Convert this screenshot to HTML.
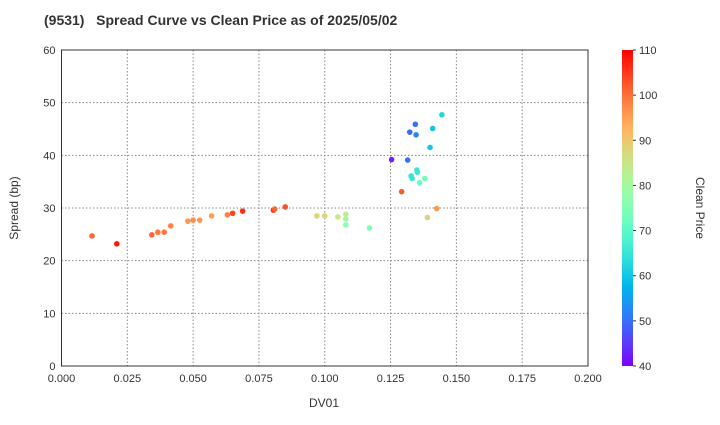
<!DOCTYPE html>
<html><head><meta charset="utf-8"><style>
body{margin:0;background:#fff;}
svg{font-family:"Liberation Sans",sans-serif;}
</style></head><body>
<svg id="c" width="720" height="420" xmlns="http://www.w3.org/2000/svg"></svg>
<script>
const dv01 = [0.0116,0.021,0.0343,0.0366,0.039,0.0415,0.048,0.050,0.0525,0.057,0.063,0.065,0.0688,0.0805,0.081,0.085,0.097,0.100,0.105,0.108,0.108,0.108,0.117,
0.1445,0.1344,0.141,0.1323,0.1347,0.140,0.1254,0.1315,0.135,0.1352,0.1328,0.138,0.1332,0.136,0.1292,0.1425,0.139];
const spread = [24.7,23.2,24.9,25.4,25.4,26.6,27.5,27.7,27.7,28.5,28.7,29.0,29.4,29.6,29.8,30.2,28.5,28.5,28.3,28.8,27.9,26.8,26.2,
47.7,45.9,45.1,44.4,43.9,41.5,39.2,39.1,37.2,36.8,36.1,35.6,35.6,34.8,33.1,29.9,28.2];
const price = [101,108,101,99,99,98,96,97,96,95,98,104,106,106,101,103,88,88,85,84,80,76,75,
62,50,60,50,52,60,43,50,65,65,65,73,65,72,102,96,88];
const xTicks = ["0.000","0.025","0.050","0.075","0.100","0.125","0.150","0.175","0.200"];
const yTicks = ["0","10","20","30","40","50","60"];
const cTicks = ["40","50","60","70","80","90","100","110"];

const L=61.5,R=588,T=50,B=366;
const X=v=>L+v/0.2*(R-L), Y=v=>B-v/60*(B-T);
const cmin=40,cmax=110,CT=50,CB=366,CL=622,CR=633;
function cmap(t){t=Math.max(0,Math.min(1,t));
 const r=Math.min(1,Math.abs(2*t-0.5)),g=Math.sin(Math.PI*t),b=Math.cos(Math.PI/2*t);
 return `rgb(${Math.round(r*255)},${Math.round(g*255)},${Math.round(Math.max(0,b)*255)})`;}
const s=document.getElementById('c'),NS="http://www.w3.org/2000/svg";
function el(t,a,txt){const e=document.createElementNS(NS,t);for(const k in a)e.setAttribute(k,a[k]);if(txt!==undefined)e.textContent=txt;s.appendChild(e);return e;}

let e=el('text',{x:44,y:25,'font-size':14,'font-weight':'bold',fill:'#333'},'(9531)   Spread Curve vs Clean Price as of 2025/05/02');


e.style.whiteSpace='pre';

xTicks.forEach((t,i)=>{const x=X(+t);
 if(i>0&&i<xTicks.length-1){const g=el('line',{x1:x,x2:x,y1:T,y2:B,stroke:'#888','stroke-dasharray':'1.5,2','stroke-width':1});
 
 }
 const l=el('text',{x:x,y:B+16,'font-size':11,'text-anchor':'middle',fill:'#333'},t);
 
 });
yTicks.forEach((t,i)=>{const y=Y(+t);
 if(i>0&&i<yTicks.length-1){const g=el('line',{x1:L,x2:R,y1:y,y2:y,stroke:'#888','stroke-dasharray':'1.5,2','stroke-width':1});
 
 }
 const l=el('text',{x:L-6,y:y+4,'font-size':11,'text-anchor':'end',fill:'#333'},t);
 
 });
e=el('rect',{x:L,y:T,width:R-L,height:B-T,fill:'none',stroke:'#333','stroke-width':1});



dv01.forEach((d,i)=>{const c=el('circle',{cx:X(d),cy:Y(spread[i]),r:2.8,fill:cmap((price[i]-cmin)/(cmax-cmin))});
 
 });

e=el('text',{x:324,y:407,'font-size':12,'text-anchor':'middle',fill:'#333'},'DV01');


e=el('text',{x:0,y:0,'font-size':12,'text-anchor':'middle',fill:'#333',transform:`translate(18,${(T+B)/2}) rotate(-90)`},'Spread (bp)');



const defs=el('defs',{});const lg=document.createElementNS(NS,'linearGradient');
lg.setAttribute('id','cg');lg.setAttribute('x1','0');lg.setAttribute('y1','1');lg.setAttribute('x2','0');lg.setAttribute('y2','0');
for(let k=0;k<=20;k++){const st=document.createElementNS(NS,'stop');st.setAttribute('offset',k/20);st.setAttribute('stop-color',cmap(k/20));lg.appendChild(st);}
defs.appendChild(lg);
e=el('rect',{x:CL,y:CT,width:CR-CL,height:CB-CT,fill:'url(#cg)'});


cTicks.forEach(t=>{const y=CB-(+t-cmin)/(cmax-cmin)*(CB-CT);
 el('line',{x1:CR,x2:CR+3,y1:y,y2:y,stroke:'#333'});
 const l=el('text',{x:CR+6,y:y+4,'font-size':11,fill:'#333'},t);
 
 });
e=el('text',{x:0,y:0,'font-size':12,'text-anchor':'middle',fill:'#333',transform:`translate(696,${(CT+CB)/2}) rotate(90)`},'Clean Price');


</script>
</body></html>
